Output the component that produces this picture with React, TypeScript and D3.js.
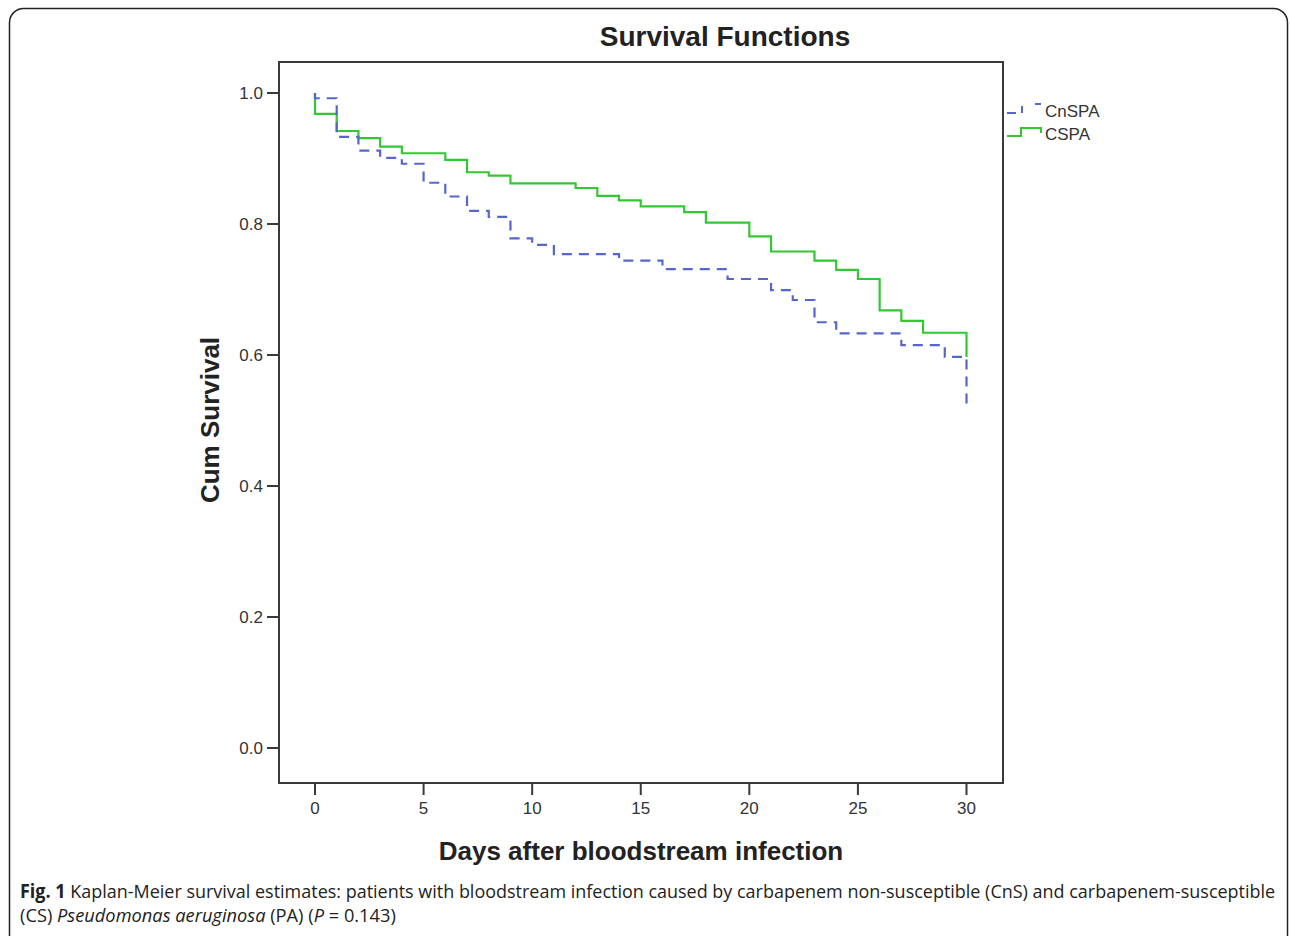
import React, { useLayoutEffect, useRef, useState } from "react";
import * as d3 from "d3";

// CnSPA (carbapenem non-susceptible) Kaplan-Meier steps
const cnsTimes = [0, 0, 1, 2, 3, 4, 5, 6, 7, 8, 9, 10, 11, 14, 16, 19, 21, 22, 23, 24, 27, 29, 30];
const cnsSurv = [1.0, 0.992, 0.933, 0.912, 0.901, 0.892, 0.863, 0.842, 0.82, 0.811, 0.778, 0.768, 0.754, 0.744, 0.731, 0.716, 0.699, 0.684, 0.65, 0.633, 0.615, 0.597, 0.52];

// CSPA (carbapenem-susceptible) Kaplan-Meier steps
const csTimes = [0, 0, 1, 2, 3, 4, 6, 7, 8, 9, 12, 13, 14, 15, 17, 18, 20, 21, 23, 24, 25, 26, 27, 28, 30];
const csSurv = [1.0, 0.968, 0.942, 0.931, 0.918, 0.908, 0.898, 0.879, 0.874, 0.862, 0.855, 0.843, 0.836, 0.827, 0.818, 0.802, 0.781, 0.758, 0.744, 0.73, 0.716, 0.668, 0.652, 0.634, 0.597];

const xTicks = [0, 5, 10, 15, 20, 25, 30];
const yTicks = [0.0, 0.2, 0.4, 0.6, 0.8, 1.0];
const seriesNames = ["CnSPA", "CSPA"];

const W = 1290;
const H = 936;
const box = { left: 279, right: 1003, top: 62, bottom: 783 };

function FitText({
  x,
  y,
  width,
  children,
}: {
  x: number;
  y: number;
  width: number;
  children: React.ReactNode;
}) {
  const ref = useRef<SVGTextElement>(null);
  const [s, setS] = useState(1);
  useLayoutEffect(() => {
    if (ref.current) {
      const w = ref.current.getComputedTextLength();
      if (w > 0) setS(width / w);
    }
  }, [width]);
  return (
    <g transform={`translate(${x},${y}) scale(${s},1)`}>
      <text
        ref={ref}
        x={0}
        y={0}
        fontFamily="'Open Sans', sans-serif"
        fontSize={19}
        fill="#222"
      >
        {children}
      </text>
    </g>
  );
}

export default function App() {
  const x = d3.scaleLinear().domain([0, 30]).range([315, 966.5]);
  const y = d3.scaleLinear().domain([0, 1]).range([748, 93]);

  const line = d3
    .line<[number, number]>()
    .x((d) => x(d[0]))
    .y((d) => y(d[1]))
    .curve(d3.curveStepAfter);

  const cnsPts = cnsTimes.map((t, i) => [t, cnsSurv[i]] as [number, number]);
  const csPts = csTimes.map((t, i) => [t, csSurv[i]] as [number, number]);

  const axisColor = "#3a3a3a";
  const tickFont = "'Liberation Sans', Arial, sans-serif";
  const blue = "#5567cc";
  const green = "#33c733";

  return (
    <svg
      width={W}
      height={H}
      style={{ position: "absolute", left: 0, top: 0, background: "#fff" }}
    >
      <rect x={0} y={0} width={W} height={H} fill="#fff" />
      {/* outer rounded frame */}
      <rect
        x={9.5}
        y={8.5}
        width={1278}
        height={960}
        rx={14}
        ry={14}
        fill="none"
        stroke="#222"
        strokeWidth={1.5}
      />

      {/* title */}
      <text
        x={725}
        y={46}
        textAnchor="middle"
        fontFamily={tickFont}
        fontWeight="bold"
        fontSize={28}
        fill="#222"
      >
        Survival Functions
      </text>

      {/* plot box */}
      <rect
        x={box.left}
        y={box.top}
        width={box.right - box.left}
        height={box.bottom - box.top}
        fill="none"
        stroke={axisColor}
        strokeWidth={2}
      />

      {/* y ticks */}
      {yTicks.map((t) => (
        <g key={"y" + t}>
          <line
            x1={box.left - 12}
            x2={box.left}
            y1={y(t)}
            y2={y(t)}
            stroke={axisColor}
            strokeWidth={2}
          />
          <text
            x={box.left - 16}
            y={y(t)}
            dy="0.35em"
            textAnchor="end"
            fontFamily={tickFont}
            fontSize={17}
            fill="#333"
          >
            {t.toFixed(1)}
          </text>
        </g>
      ))}

      {/* x ticks */}
      {xTicks.map((t) => (
        <g key={"x" + t}>
          <line
            x1={x(t)}
            x2={x(t)}
            y1={box.bottom}
            y2={box.bottom + 12}
            stroke={axisColor}
            strokeWidth={2}
          />
          <text
            x={x(t)}
            y={box.bottom + 31}
            textAnchor="middle"
            fontFamily={tickFont}
            fontSize={17}
            fill="#333"
          >
            {t}
          </text>
        </g>
      ))}

      {/* axis titles */}
      <text
        x={(box.left + box.right) / 2}
        y={860}
        textAnchor="middle"
        fontFamily={tickFont}
        fontWeight="bold"
        fontSize={26}
        fill="#222"
      >
        Days after bloodstream infection
      </text>
      <text
        transform={`translate(219, 420) rotate(-90)`}
        textAnchor="middle"
        fontFamily={tickFont}
        fontWeight="bold"
        fontSize={26}
        fill="#222"
      >
        Cum Survival
      </text>

      {/* curves */}
      <path
        d={line(csPts) || ""}
        fill="none"
        stroke={green}
        strokeWidth={2.2}
      />
      <path
        d={line(cnsPts) || ""}
        fill="none"
        stroke={blue}
        strokeWidth={2.2}
        strokeDasharray="10,7"
      />

      {/* legend */}
      <path
        d="M1007,113 H1016 M1022,106 V113 M1035,104 H1041"
        fill="none"
        stroke={blue}
        strokeWidth={2}
      />
      <path
        d="M1007,136 H1021 V128 H1041 V133"
        fill="none"
        stroke={green}
        strokeWidth={2}
      />
      <text x={1045} y={111} dy="0.35em" fontFamily={tickFont} fontSize={17} fill="#333">
        {seriesNames[0]}
      </text>
      <text x={1045} y={134} dy="0.35em" fontFamily={tickFont} fontSize={17} fill="#333">
        {seriesNames[1]}
      </text>

      {/* caption */}
      <FitText x={20} y={898} width={1256}>
        <tspan fontWeight="bold">Fig. 1</tspan>
        <tspan> Kaplan-Meier survival estimates: patients with bloodstream infection caused by carbapenem non-susceptible (CnS) and carbapenem-susceptible</tspan>
      </FitText>
      <FitText x={20} y={922} width={376}>
        <tspan>(CS) </tspan>
        <tspan fontStyle="italic">Pseudomonas aeruginosa</tspan>
        <tspan> (PA) (</tspan>
        <tspan fontStyle="italic">P</tspan>
        <tspan> = 0.143)</tspan>
      </FitText>
    </svg>
  );
}
